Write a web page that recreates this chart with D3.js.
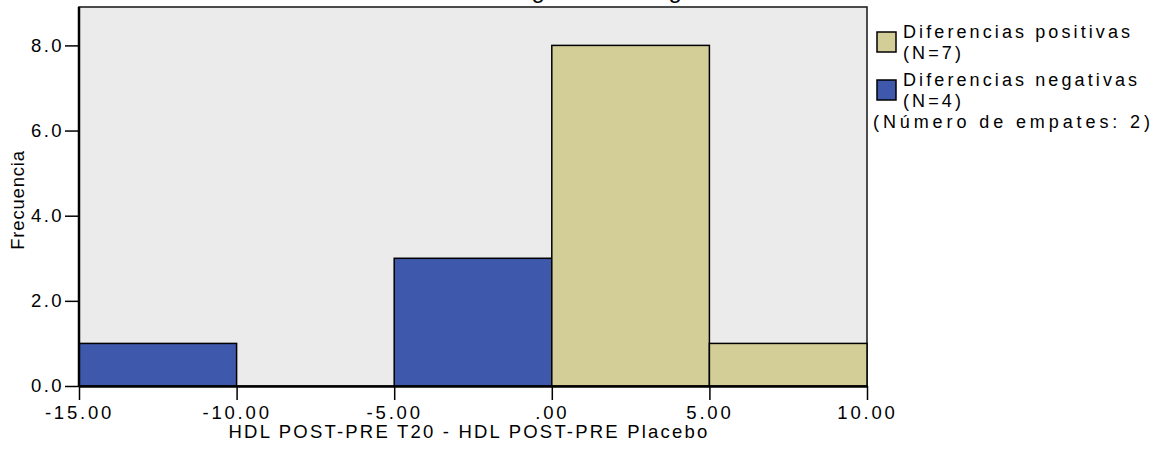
<!DOCTYPE html>
<html><head><meta charset="utf-8">
<script src="https://cdn.jsdelivr.net/npm/d3@7"></script>
<style>
body{margin:0;background:#fff;}
svg text{font-family:"Liberation Sans",Arial,Helvetica,sans-serif;fill:#000;}
</style></head>
<body><svg id="c" width="1166" height="454"></svg>
<script>
const binEdges = [-15, -10, -5, 0, 5, 10];
const negativeCounts = [1, 0, 3, 0, 0];
const positiveCounts = [0, 0, 0, 8, 1];
const xTicks = [-15, -10, -5, 0, 5, 10];
const yTicks = [0, 2, 4, 6, 8];
const seriesNames = ["Diferencias positivas", "Diferencias negativas"];
const seriesN = ["(N=7)", "(N=4)"];
const tiesLabel = "(Número de empates: 2)";
const xTitle = "HDL POST-PRE T20 - HDL POST-PRE Placebo";
const yTitle = "Frecuencia";
const chartTitle = "Prueba de los rangos con signo de Wilcoxon";

const colors = {pos: "#d3ce98", neg: "#3e58ab", bg: "#ebebeb"};
const svg = d3.select("#c");
const m = {l: 79, r: 867, t: 7, b: 386};
const x = d3.scaleLinear().domain([-15, 10]).range([m.l, m.r]);
const y = d3.scaleLinear().domain([0, 8]).range([m.b, 45.4]);
const FS = "18.5px";

// title (cut off at top edge, as in the reference)
svg.append("text").attr("x", 591).attr("y", -2).attr("text-anchor", "middle")
  .style("font-size", "24px").style("letter-spacing", "2.9px").text(chartTitle);

svg.append("rect").attr("x", m.l).attr("y", m.t).attr("width", m.r - m.l).attr("height", m.b - m.t)
  .attr("fill", colors.bg).attr("stroke", "#222").attr("stroke-width", 1.6);

const bins = d3.range(binEdges.length - 1).map(i => ({x0: binEdges[i], x1: binEdges[i + 1], neg: negativeCounts[i], pos: positiveCounts[i]}));
bins.forEach(b => {
  [["neg", colors.neg], ["pos", colors.pos]].forEach(([k, c]) => {
    if (b[k] > 0) {
      svg.append("rect").attr("x", x(b.x0)).attr("y", y(b[k]))
        .attr("width", x(b.x1) - x(b.x0)).attr("height", y(0) - y(b[k]))
        .attr("fill", c).attr("stroke", "#000").attr("stroke-width", 1.5);
    }
  });
});

// axes
const yAxis = d3.axisLeft(y).tickValues(yTicks).tickFormat(d3.format(".1f")).tickSizeInner(14).tickSizeOuter(0).tickPadding(1);
const gy = svg.append("g").attr("transform", `translate(${m.l},0)`).call(yAxis);
gy.select(".domain").attr("stroke", "#000").attr("stroke-width", 2.5).attr("d", `M0,${m.t}V${m.b}`);
gy.selectAll(".tick line").attr("stroke", "#000").attr("stroke-width", 1.5);
gy.selectAll("text").style("font-size", FS).style("letter-spacing", "2.4px").attr("font-family", null);

const fmtX = d => d === 0 ? ".00" : d3.format(".2f")(d).replace("\u2212", "-");
const xAxis = d3.axisBottom(x).tickValues(xTicks).tickFormat(fmtX).tickSizeInner(14).tickSizeOuter(0).tickPadding(6);
const gx = svg.append("g").attr("transform", `translate(0,${m.b})`).call(xAxis);
gx.select(".domain").attr("stroke", "#000").attr("stroke-width", 2.5);
gx.selectAll(".tick line").attr("stroke", "#000").attr("stroke-width", 1.5);
gx.selectAll("text").style("font-size", FS).style("letter-spacing", "2.8px").attr("font-family", null);
svg.selectAll(".tick text").attr("fill", "#000");

svg.append("text").attr("x", 469).attr("y", 438).attr("text-anchor", "middle")
  .style("font-size", FS).style("letter-spacing", "2.2px").text(xTitle);
svg.append("text").attr("transform", "translate(24,200) rotate(-90)").attr("text-anchor", "middle")
  .style("font-size", FS).style("letter-spacing", "0.8px").text(yTitle);

// legend
const LFS = "18px";
const leg = svg.append("g");
[[colors.pos, 0], [colors.neg, 1]].forEach(([c, i]) => {
  const y0 = 32 + i * 48;
  leg.append("rect").attr("x", 877).attr("y", y0).attr("width", 19).attr("height", 20)
    .attr("fill", c).attr("stroke", "#000").attr("stroke-width", 1.5);
  leg.append("text").attr("x", 903).attr("y", y0 + 5.5).style("font-size", LFS).style("letter-spacing", "3.1px").text(seriesNames[i]);
  leg.append("text").attr("x", 903).attr("y", y0 + 26.5).style("font-size", LFS).style("letter-spacing", "3.1px").text(seriesN[i]);
});
leg.append("text").attr("x", 873).attr("y", 127.5).style("font-size", LFS).style("letter-spacing", "3.9px").text(tiesLabel);
</script></body></html>
